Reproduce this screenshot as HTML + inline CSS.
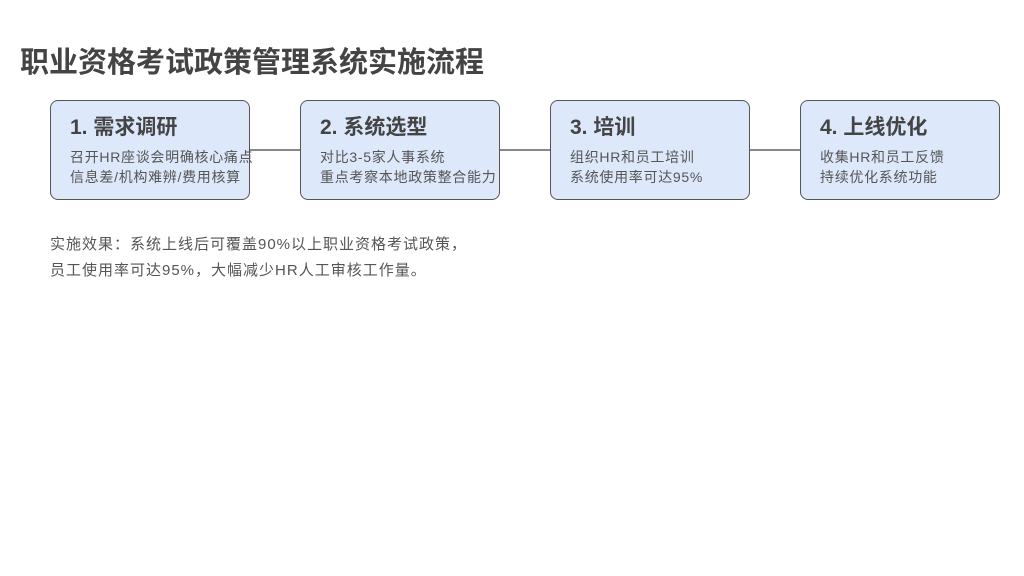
<!DOCTYPE html>
<html><head><meta charset="utf-8"><style>
body{margin:0;width:1024px;height:576px;background:#fff;font-family:"Liberation Sans","Noto Sans CJK SC",sans-serif;color:#444;position:relative;overflow:hidden}
.t{position:absolute;left:20px;top:39px;font-size:29px;font-weight:bold;color:#444;white-space:nowrap}
.b{position:absolute;top:100px;width:198px;height:98px;border:1px solid #555;border-radius:8px;background:#dde8fb}
.b h3{margin:0;position:absolute;left:19px;top:10px;font-size:21px;font-weight:bold;color:#444;white-space:nowrap}
.b p{margin:0;position:absolute;left:19px;top:46px;font-size:14px;line-height:20px;color:#555;white-space:nowrap;letter-spacing:0.7px}
.l{position:absolute;top:149px;width:50px;height:2px;background:#888}
.n{position:absolute;left:50px;top:232px;font-size:15px;line-height:26px;color:#555;white-space:nowrap;letter-spacing:1px}
</style></head><body>
<div class="t">职业资格考试政策管理系统实施流程</div>
<div class="b" style="left:50px"><h3>1. 需求调研</h3><p>召开HR座谈会明确核心痛点<br>信息差/机构难辨/费用核算</p></div>
<div class="b" style="left:300px"><h3>2. 系统选型</h3><p>对比3-5家人事系统<br>重点考察本地政策整合能力</p></div>
<div class="b" style="left:550px"><h3>3. 培训</h3><p>组织HR和员工培训<br>系统使用率可达95%</p></div>
<div class="b" style="left:800px"><h3>4. 上线优化</h3><p>收集HR和员工反馈<br>持续优化系统功能</p></div>
<div class="l" style="left:250px"></div>
<div class="l" style="left:500px"></div>
<div class="l" style="left:750px"></div>
<div class="n">实施效果：系统上线后可覆盖90%以上职业资格考试政策，<br>员工使用率可达95%，大幅减少HR人工审核工作量。</div>
</body></html>
